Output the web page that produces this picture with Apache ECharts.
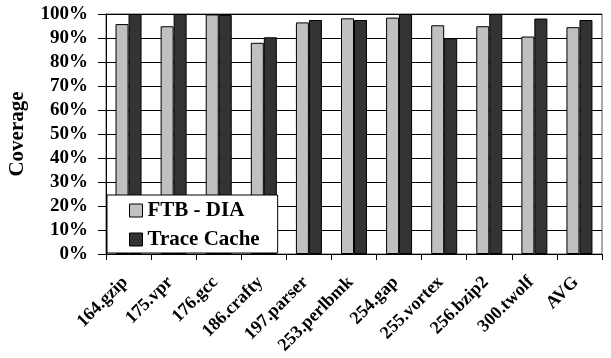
<!DOCTYPE html>
<html>
<head>
<meta charset="utf-8">
<script src="https://cdn.jsdelivr.net/npm/echarts@6/dist/echarts.min.js"></script>
<style>
  html, body { margin: 0; padding: 0; background: #fff; }
  #chart { width: 611px; height: 358px; }
</style>
</head>
<body>
<div id="chart"></div>
<script>
// Benchmarks on the category axis
const benchmarks = ['164.gzip', '175.vpr', '176.gcc', '186.crafty', '197.parser',
  '253.perlbmk', '254.gap', '255.vortex', '256.bzip2', '300.twolf', 'AVG'];

// Coverage (%) per benchmark
const ftbDia     = [95.8, 94.9, 99.8, 88.0, 96.5, 98.2, 98.5, 95.3, 94.9, 90.6, 94.5];
const traceCache = [100, 100, 99.6, 90.3, 97.5, 97.5, 100, 89.9, 100, 98.1, 97.5];

const yTicks = { min: 0, max: 100, step: 10 };

const serif = "'Liberation Serif', 'Times New Roman', serif";

const chart = echarts.init(document.getElementById('chart'), null, { renderer: 'canvas' });

chart.setOption({
  animation: false,
  backgroundColor: '#ffffff',
  textStyle: { fontFamily: serif },
  grid: {
    left: 106, right: 9, top: 14, bottom: 104,
    containLabel: false, outerBoundsMode: 'none',
    show: true, borderColor: '#555', borderWidth: 1, backgroundColor: '#fff'
  },
  legend: {
    orient: 'vertical',
    left: 107, top: 195,
    padding: [5, 18, 3, 22],
    backgroundColor: '#ffffff',
    borderColor: '#000', borderWidth: 1,
    itemWidth: 13, itemHeight: 13, itemGap: 8, itemTextGap: 8,
    icon: 'rect',
    itemStyle: { borderColor: '#000', borderWidth: 1 },
    textStyle: { fontFamily: serif, fontWeight: 'bold', fontSize: 21, color: '#000' },
    data: ['FTB - DIA', 'Trace Cache']
  },
  xAxis: {
    type: 'category',
    data: benchmarks,
    boundaryGap: true,
    axisLine: { lineStyle: { color: '#000', width: 1 } },
    axisTick: { show: true, length: 6, lineStyle: { color: '#000' } },
    axisLabel: {
      rotate: 45, margin: 22, interval: 0, padding: [0, 5, 0, 0],
      fontFamily: serif, fontWeight: 'bold', fontSize: 18, color: '#000'
    }
  },
  yAxis: {
    type: 'value',
    min: yTicks.min, max: yTicks.max, interval: yTicks.step,
    name: 'Coverage',
    nameLocation: 'middle',
    nameGap: 78,
    nameRotate: 90,
    nameTextStyle: { fontFamily: serif, fontWeight: 'bold', fontSize: 21, color: '#000' },
    axisLine: { show: true, lineStyle: { color: '#000', width: 1 } },
    axisTick: { show: true, length: 8, lineStyle: { color: '#000' } },
    axisLabel: {
      formatter: '{value}%', margin: 18,
      fontFamily: serif, fontWeight: 'bold', fontSize: 19, color: '#000'
    },
    splitLine: { show: true, lineStyle: { color: '#000', width: 1 } }
  },
  series: [
    {
      name: 'FTB - DIA', type: 'bar', data: ftbDia,
      barWidth: 13, barGap: '0%',
      itemStyle: { color: '#c0c0c0', borderColor: '#000', borderWidth: 1 }
    },
    {
      name: 'Trace Cache', type: 'bar', data: traceCache,
      barWidth: 13, barGap: '0%',
      itemStyle: { color: '#333333', borderColor: '#000', borderWidth: 1 }
    }
  ]
});
</script>
</body>
</html>
